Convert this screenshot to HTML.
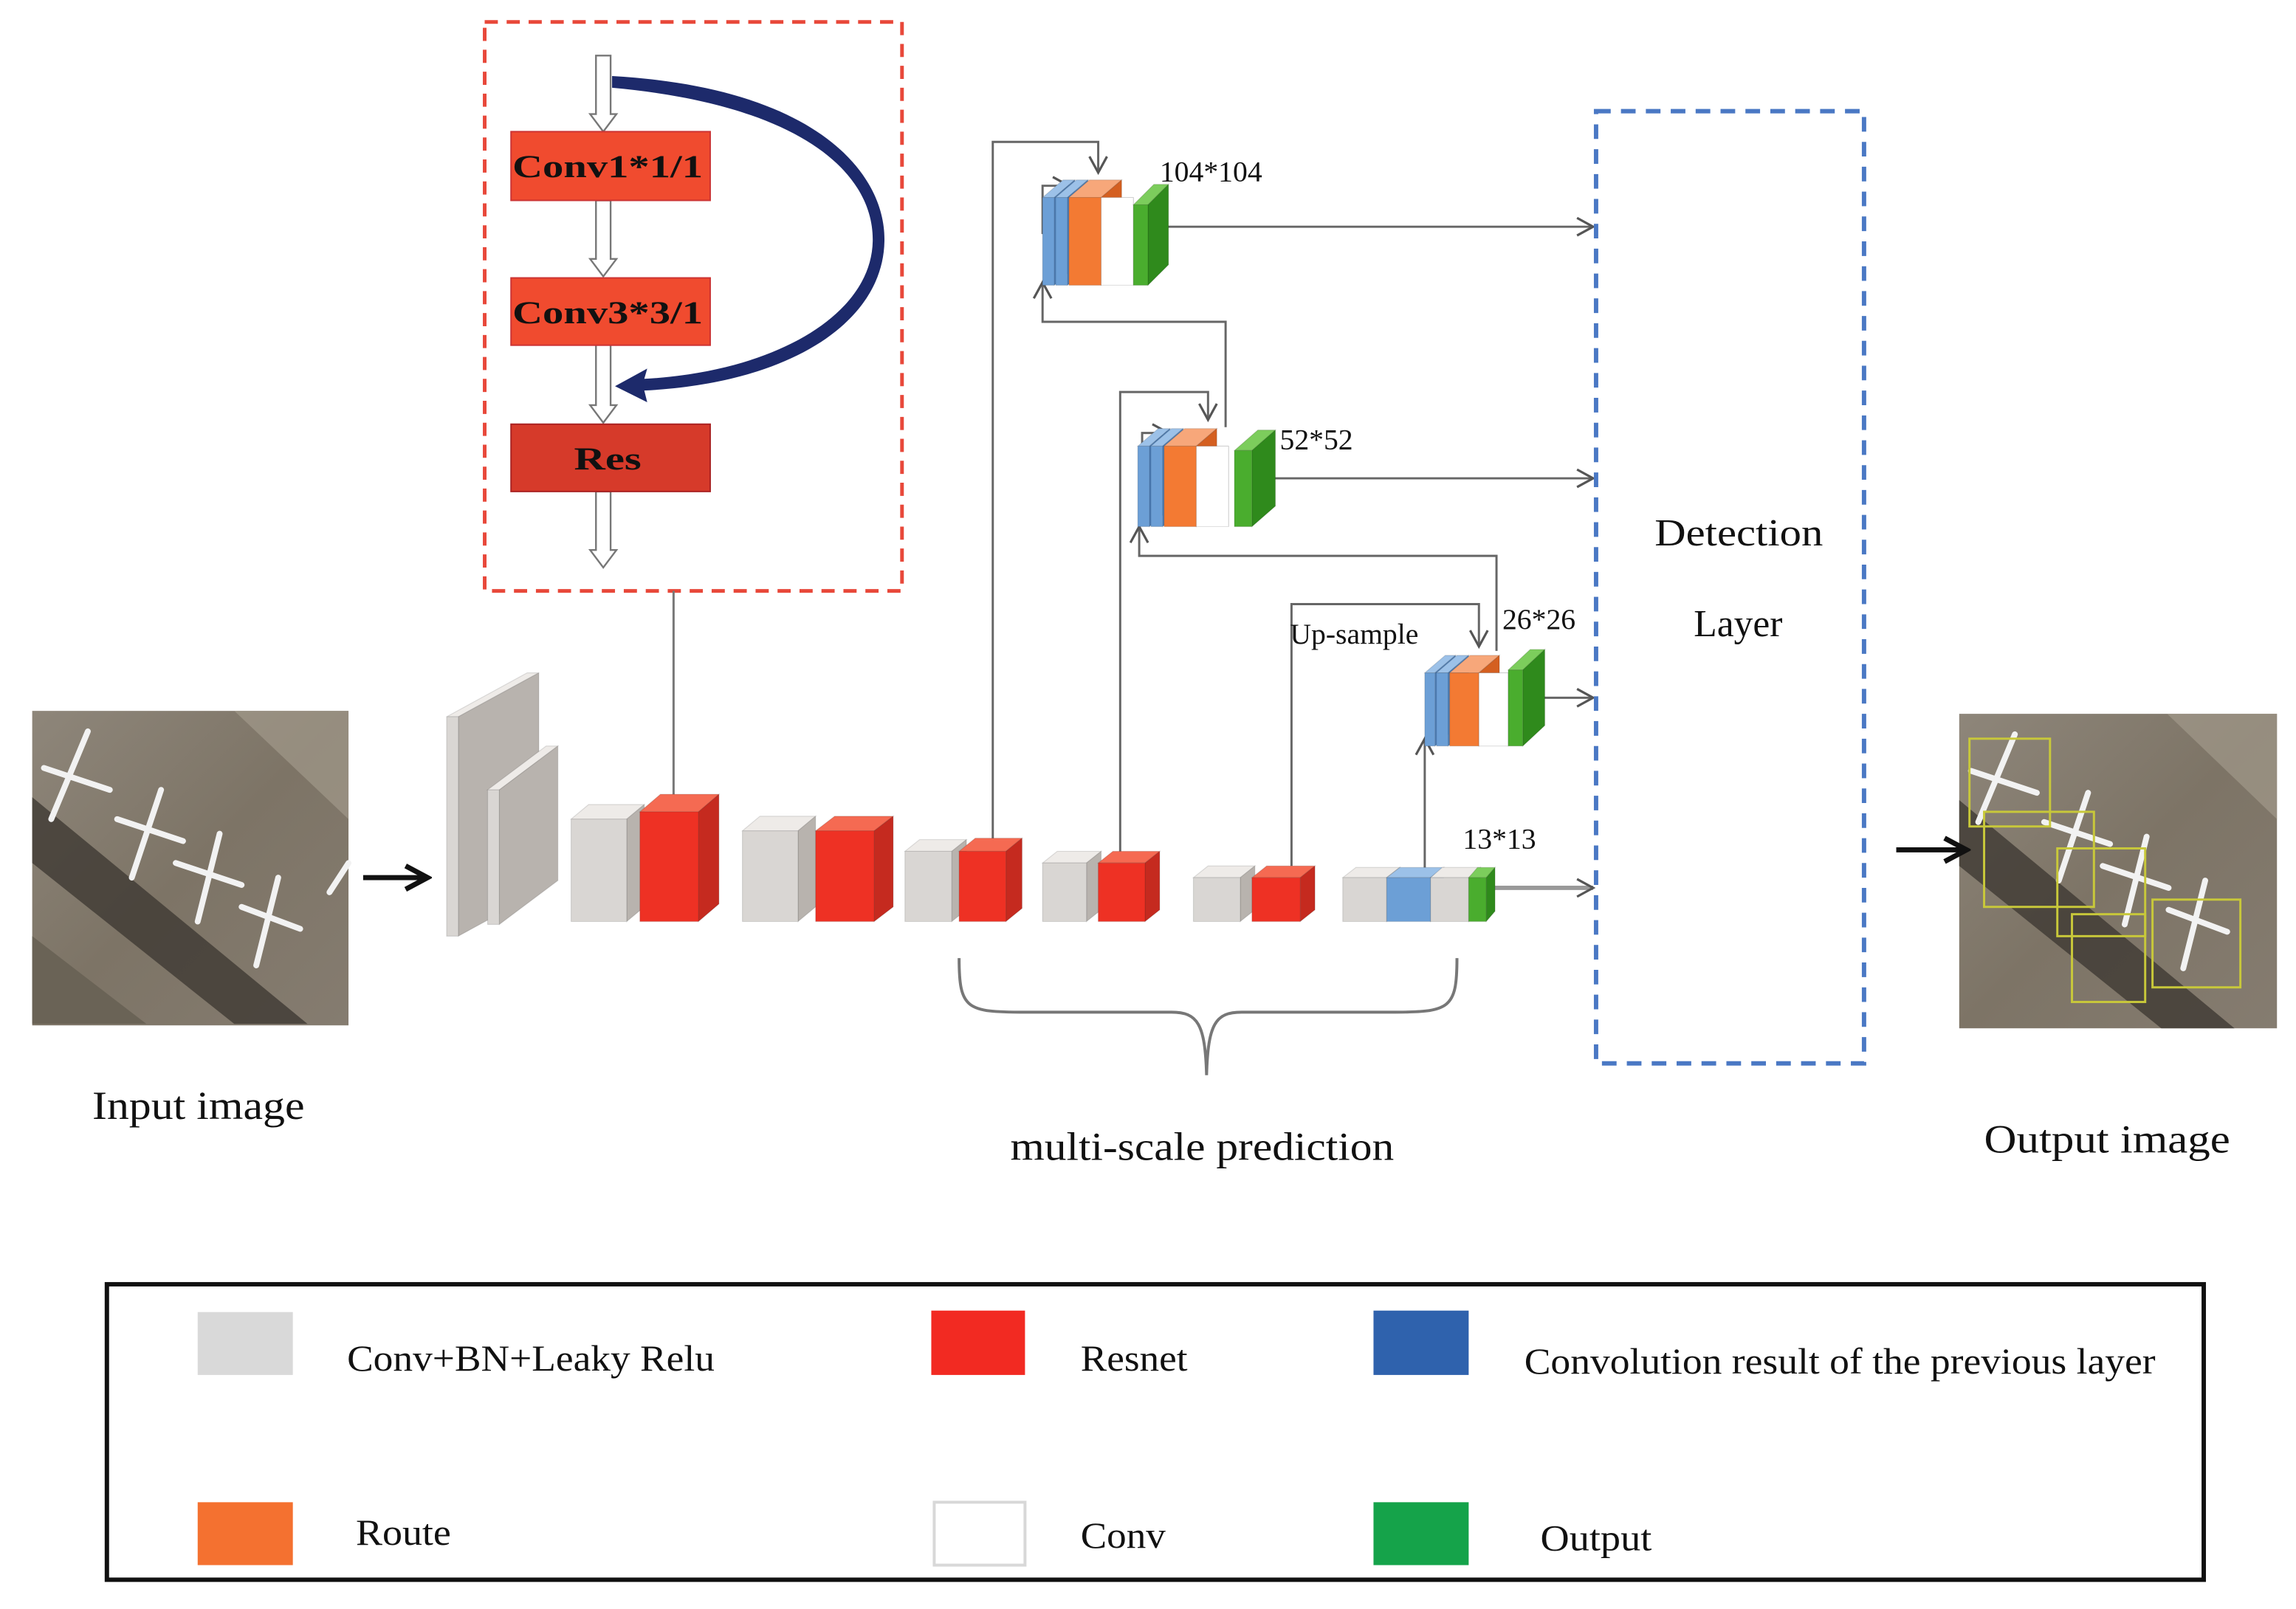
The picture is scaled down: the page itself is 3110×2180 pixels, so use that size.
<!DOCTYPE html>
<html><head><meta charset="utf-8">
<style>
html,body{margin:0;padding:0;background:#fff;}
svg{display:block;}
text{font-family:"Liberation Serif",serif;fill:#111;}
</style></head>
<body>
<svg id="s" width="3110" height="2180" viewBox="0 0 1568 1100" preserveAspectRatio="none" xmlns="http://www.w3.org/2000/svg">
<defs>
<marker id="ah" markerWidth="14" markerHeight="14" refX="12" refY="7" orient="auto" markerUnits="userSpaceOnUse">
<path d="M1,1 L12,7 L1,13" fill="none" stroke="#555" stroke-width="1.6"/>
</marker>
<marker id="bah" markerWidth="20" markerHeight="20" refX="17" refY="10" orient="auto" markerUnits="userSpaceOnUse">
<path d="M2,2 L17,10 L2,18" fill="none" stroke="#111" stroke-width="3.5"/>
</marker>
<linearGradient id="img" x1="0" y1="0" x2="1" y2="1">
<stop offset="0" stop-color="#8e867a"/><stop offset="0.5" stop-color="#7d7466"/><stop offset="1" stop-color="#857c70"/>
</linearGradient>
</defs>

<rect x="331" y="15" width="285" height="389" fill="none" stroke="#e8483a" stroke-width="2.5" stroke-dasharray="9,6"/>
<g fill="#fff" stroke="#777" stroke-width="1.2">
<path d="M407,38 h10 v40 h4 l-9,12 l-9,-12 h4z"/>
<path d="M407,137 h10 v40 h4 l-9,12 l-9,-12 h4z"/>
<path d="M407,235 h10 v42 h4 l-9,12 l-9,-12 h4z"/>
<path d="M407,336 h10 v40 h4 l-9,12 l-9,-12 h4z"/>
</g>
<rect x="349" y="90" width="136" height="47" fill="#f04b2f" stroke="#c33" stroke-width="1"/>
<rect x="349" y="190" width="136" height="46" fill="#f04b2f" stroke="#c33" stroke-width="1"/>
<rect x="349" y="290" width="136" height="46" fill="#d63a2a" stroke="#a22" stroke-width="1"/>
<text x="350" y="121" font-size="22" font-weight="bold" textLength="130" lengthAdjust="spacingAndGlyphs">Conv1*1/1</text>
<text x="350" y="221" font-size="22" font-weight="bold" textLength="130" lengthAdjust="spacingAndGlyphs">Conv3*3/1</text>
<text x="392" y="321" font-size="22" font-weight="bold" textLength="46" lengthAdjust="spacingAndGlyphs">Res</text>
<path d="M418,52 C560,60 605,120 604,165 C603,220 540,262 440,267 L442,275 L420,264 L442,252 L440,259 C530,254 595,215 596,165 C597,120 550,72 418,60 Z" fill="#1d2a6b"/>
<line x1="460" y1="404" x2="460" y2="545" stroke="#777" stroke-width="1.5"/>

<g>
<rect x="22" y="486" width="216" height="215" fill="url(#img)"/>
<path d="M80,486 L238,486 L238,560 L160,486Z" fill="#a69e90" opacity="0.6"/>
<path d="M22,590 L160,700 L210,700 L22,545Z" fill="#3e3a33" opacity="0.8"/>
<path d="M22,640 L100,700 L22,700Z" fill="#6a6356"/>
<g stroke="#f2f2f2" stroke-width="4" stroke-linecap="round">
<path d="M60,500 L35,560 M30,525 L75,540"/>
<path d="M110,540 L90,600 M80,560 L125,575"/>
<path d="M150,570 L135,630 M120,590 L165,605"/>
<path d="M190,600 L175,660 M165,620 L205,635"/>
<path d="M238,590 L225,610"/>
</g>
</g>
<line x1="248" y1="600" x2="292" y2="600" stroke="#111" stroke-width="3.5" marker-end="url(#bah)"/>

<g>
<rect x="1338" y="488" width="217" height="215" fill="url(#img)"/>
<path d="M1400,488 L1555,488 L1555,560 L1480,488Z" fill="#a69e90" opacity="0.6"/>
<path d="M1338,592 L1476,703 L1526,703 L1338,547Z" fill="#3e3a33" opacity="0.8"/>
<g stroke="#f2f2f2" stroke-width="4" stroke-linecap="round">
<path d="M1376,502 L1351,562 M1346,527 L1391,542"/>
<path d="M1426,542 L1406,602 M1396,562 L1441,577"/>
<path d="M1466,572 L1451,632 M1436,592 L1481,607"/>
<path d="M1506,602 L1491,662 M1481,622 L1521,637"/>
</g>
<g fill="none" stroke="#c8c83a" stroke-width="1.5">
<rect x="1345" y="505" width="55" height="60"/>
<rect x="1355" y="555" width="75" height="65"/>
<rect x="1405" y="580" width="60" height="60"/>
<rect x="1470" y="615" width="60" height="60"/>
<rect x="1415" y="625" width="50" height="60"/>
</g>
</g>
<line x1="1295" y1="581" x2="1343" y2="581" stroke="#111" stroke-width="3.5" marker-end="url(#bah)"/>

<g fill="none" stroke="#666" stroke-width="1.5">
<polyline points="678,575 678,97 750,97 750,118" marker-end="url(#ah)"/>
<polyline points="765,583 765,268 825,268 825,287" marker-end="url(#ah)"/>
<polyline points="882,592 882,413 1010,413 1010,442" marker-end="url(#ah)"/>
<polyline points="973,595 973,505" marker-end="url(#ah)"/>
<polyline points="837,292 837,220 712,220 712,193" marker-end="url(#ah)"/>
<polyline points="1022,445 1022,380 778,380 778,360" marker-end="url(#ah)"/>
<polyline points="712,160 712,127 730,127" marker-end="url(#ah)"/>
<polyline points="780,327 780,296 798,296" marker-end="url(#ah)"/>
<line x1="790" y1="155" x2="1088" y2="155" marker-end="url(#ah)"/>
<line x1="860" y1="327" x2="1088" y2="327" marker-end="url(#ah)"/>
<line x1="1045" y1="477" x2="1088" y2="477" marker-end="url(#ah)"/>
<line x1="1020" y1="607" x2="1088" y2="607" stroke-width="3" stroke="#999" marker-end="url(#ah)"/>
</g>

<g id="boxes"></g>

<text x="792" y="124" font-size="20">104*104</text>
<text x="874" y="307" font-size="20">52*52</text>
<text x="1026" y="430" font-size="20">26*26</text>
<text x="881" y="440" font-size="20">Up-sample</text>
<text x="999" y="580" font-size="20">13*13</text>

<path d="M655,655 C655,690 660,692 700,692 L800,692 C818,692 823,700 824,735 C825,700 830,692 848,692 L950,692 C990,692 995,690 995,655" fill="none" stroke="#777" stroke-width="2"/>

<rect x="1090" y="76" width="183" height="651" fill="none" stroke="#4a78c4" stroke-width="3" stroke-dasharray="10,7"/>
<text x="1130" y="373" font-size="26" textLength="115" lengthAdjust="spacingAndGlyphs">Detection</text>
<text x="1187" y="435" font-size="26" text-anchor="middle">Layer</text>

<text x="63" y="765" font-size="27" textLength="145" lengthAdjust="spacingAndGlyphs">Input image</text>
<text x="690" y="793" font-size="27" textLength="262" lengthAdjust="spacingAndGlyphs">multi-scale prediction</text>
<text x="1355" y="788" font-size="27" textLength="168" lengthAdjust="spacingAndGlyphs">Output image</text>

<rect x="73" y="878" width="1432" height="202" fill="none" stroke="#111" stroke-width="3"/>
<rect x="135" y="897" width="65" height="43" fill="#d9d9d9"/>
<rect x="636" y="896" width="64" height="44" fill="#f22a22"/>
<rect x="938" y="896" width="65" height="44" fill="#2f62ad"/>
<rect x="135" y="1027" width="65" height="43" fill="#f47130"/>
<rect x="638" y="1027" width="62" height="43" fill="#fff" stroke="#d8d8d8" stroke-width="2"/>
<rect x="938" y="1027" width="65" height="43" fill="#15a34a"/>
<text x="237" y="937" font-size="25" textLength="251" lengthAdjust="spacingAndGlyphs">Conv+BN+Leaky Relu</text>
<text x="738" y="937" font-size="25" textLength="73" lengthAdjust="spacingAndGlyphs">Resnet</text>
<text x="1041" y="939" font-size="25" textLength="431" lengthAdjust="spacingAndGlyphs">Convolution result of the previous layer</text>
<text x="243" y="1056" font-size="25" textLength="65" lengthAdjust="spacingAndGlyphs">Route</text>
<text x="738" y="1058" font-size="25" textLength="58" lengthAdjust="spacingAndGlyphs">Conv</text>
<text x="1052" y="1060" font-size="25" textLength="76" lengthAdjust="spacingAndGlyphs">Output</text>
</svg>
<script>
(function(){
var g=document.getElementById('boxes'),NS='http://www.w3.org/2000/svg';
var C={g:['#d9d6d3','#eeebe8','#b8b3ae'],r:['#ee3124','#f56a52','#c52a1f'],b:['#6c9fd6','#9cc1e8','#4f82bd'],
o:['#f37a33','#f7a77a','#d45f20'],w:['#ffffff','#f4f4f4','#e4e4e4'],G:['#4aad2e','#7ccd5c','#2f8a1c']};
function P(pts,f){var p=document.createElementNS(NS,'polygon');p.setAttribute('points',pts);p.setAttribute('fill',f);p.setAttribute('stroke','rgba(0,0,0,0.12)');p.setAttribute('stroke-width','0.6');g.appendChild(p);}
function box(x,y,w,h,dx,dy,c){var k=C[c];
P(x+','+y+' '+(x+dx)+','+(y-dy)+' '+(x+w+dx)+','+(y-dy)+' '+(x+w)+','+y,k[1]);
P((x+w)+','+y+' '+(x+w+dx)+','+(y-dy)+' '+(x+w+dx)+','+(y+h-dy)+' '+(x+w)+','+(y+h),k[2]);
P(x+','+y+' '+(x+w)+','+y+' '+(x+w)+','+(y+h)+' '+x+','+(y+h),k[0]);}
box(305,490,8,150,55,30,'g');
box(333,540,8,92,40,30,'g');
box(390,560,38,70,12,10,'g');
box(437,555,40,75,14,12,'r');
box(507,568,38,62,12,10,'g');
box(557,568,40,62,13,10,'r');
box(618,582,32,48,10,8,'g');
box(655,582,32,48,11,9,'r');
box(712,590,30,40,10,8,'g');
box(750,590,32,40,10,8,'r');
box(815,600,32,30,10,8,'g');
box(855,600,33,30,10,8,'r');
box(917,600,30,30,9,7,'g');
box(947,600,30,30,9,7,'b');
box(977,600,26,30,8,7,'g');
box(1003,600,12,30,6,7,'G');
box(712,135,8,60,14,12,'b');box(721,135,8,60,14,12,'b');box(730,135,22,60,14,12,'o');
box(752,135,22,60,0,0,'w');box(774,140,10,55,14,14,'G');
box(777,305,8,55,14,12,'b');box(786,305,8,55,14,12,'b');box(795,305,22,55,14,12,'o');
box(817,305,22,55,0,0,'w');box(843,308,12,52,16,14,'G');
box(973,460,7,50,14,12,'b');box(981,460,8,50,14,12,'b');box(990,460,20,50,14,12,'o');
box(1010,460,20,50,0,0,'w');box(1030,458,10,52,15,14,'G');
})();
</script>
</body></html>
